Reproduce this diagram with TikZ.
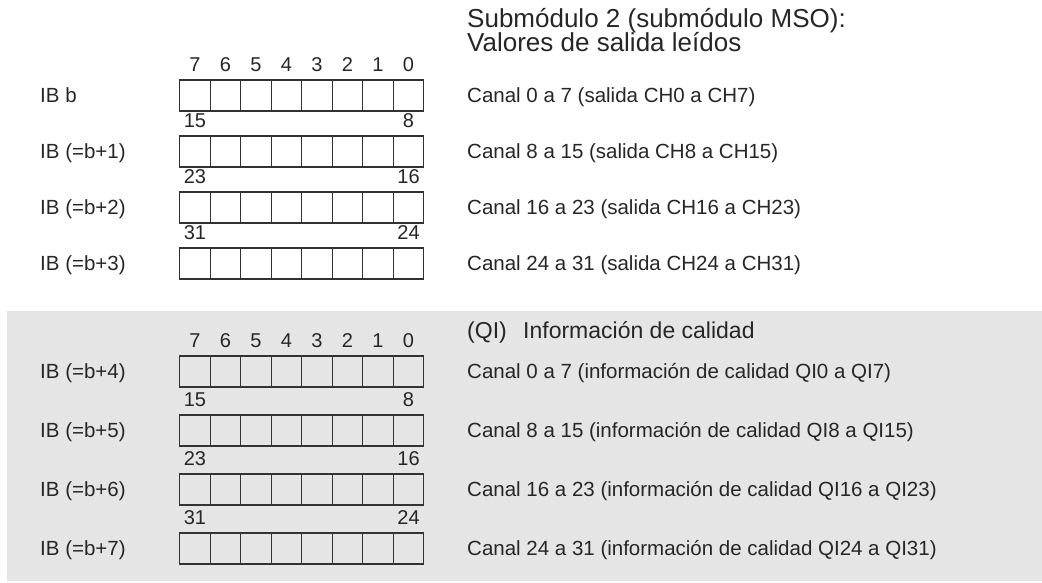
\documentclass[tikz,border=0pt]{standalone}
\usepackage{fontspec}
\setmainfont{Liberation Sans}
\usetikzlibrary{positioning}

\begin{document}
\begin{tikzpicture}[
		x=1pt, y=-1pt,
		bitcell/.style  = {draw=black!80, line width=1.1pt, minimum width=30.5pt, minimum height=31pt, inner sep=0pt},
		bitnum/.style   = {inner sep=0pt, text=black!85, font=\fontsize{20}{24}\selectfont},
		rowlabel/.style = {anchor=base west, inner sep=0pt, text=black!85, font=\fontsize{20.5}{24}\selectfont},
		chantext/.style = {rowlabel},
		heading/.style  = {anchor=base west, inner sep=0pt, text=black!85, font=\fontsize{26}{30}\selectfont},
		qihead/.style   = {heading, font=\fontsize{23}{28}\selectfont}]
		
		\useasboundingbox (0,0) rectangle (1042,583);
		
		% grey area of the quality information
		\fill[black!10] (7,311) rectangle (1042,581);
		
		% headings
		\node[heading] (title1) at (467,28) {Submódulo 2 (submódulo MSO):};
		\node[heading] (title2) at (467,51.5) {Valores de salida leídos};
		\node[qihead] (qi) at (467,338) {(QI)};
		\node[qihead, base right=16pt of qi] (qitext) {Información de calidad};
		
		% one byte per row: label, eight bit cells, bit numbers, channel text
		\foreach \row/\yc/\lab/\txt/\hib/\lob in {
			1/95.5/{IB b}/{Canal 0 a 7 (salida CH0 a CH7)}/7/0,
			2/151.5/{IB (=b+1)}/{Canal 8 a 15 (salida CH8 a CH15)}/15/8,
			3/207.5/{IB (=b+2)}/{Canal 16 a 23 (salida CH16 a CH23)}/23/16,
			4/263.5/{IB (=b+3)}/{Canal 24 a 31 (salida CH24 a CH31)}/31/24,
			5/371.5/{IB (=b+4)}/{Canal 0 a 7 (información de calidad QI0 a QI7)}/7/0,
			6/430.5/{IB (=b+5)}/{Canal 8 a 15 (información de calidad QI8 a QI15)}/15/8,
			7/489.5/{IB (=b+6)}/{Canal 16 a 23 (información de calidad QI16 a QI23)}/23/16,
			8/548.5/{IB (=b+7)}/{Canal 24 a 31 (información de calidad QI24 a QI31)}/31/24}
		{
			\node[rowlabel] (lab\row) at (40,\yc+7) {\lab};
			\foreach \k in {1,...,8}
			\node[bitcell] (r\row-\k) at ({195+30.5*(\k-1)},\yc) {};
			\node[bitnum, above=8pt of r\row-1] (hi\row) {\hib};
			\node[bitnum, above=8pt of r\row-8] (lo\row) {\lob};
			\node[chantext] (ch\row) at (467,\yc+7) {\txt};
		}
		
		% bit numbers of the first byte of each submodule part
		\foreach \row in {1,5}
		\foreach \k in {2,...,7} {
			\pgfmathtruncatemacro\bit{8-\k}
			\node[bitnum, above=8pt of r\row-\k] (b\row-\k) {\bit};
		}
		
	\end{tikzpicture}
\end{document}
